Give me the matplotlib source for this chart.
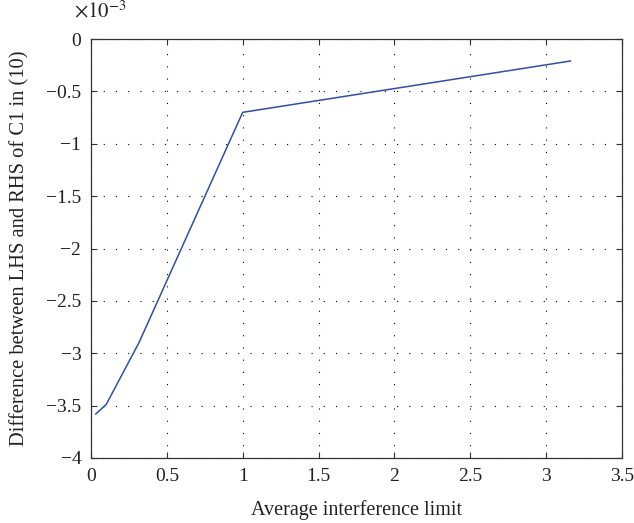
import matplotlib.pyplot as plt
from matplotlib.ticker import FuncFormatter

# interference limit vs. constraint gap
interference_limit = [0.0316, 0.1, 0.316, 1.0, 3.16]
lhs_rhs_diff = [-3.58e-3, -3.49e-3, -2.90e-3, -0.70e-3, -0.21e-3]

x_ticks = [0, 0.5, 1, 1.5, 2, 2.5, 3, 3.5]
y_ticks = [-4e-3, -3.5e-3, -3e-3, -2.5e-3, -2e-3, -1.5e-3, -1e-3, -0.5e-3, 0]

plt.rcParams['font.family'] = ['Liberation Serif', 'DejaVu Serif']
plt.rcParams['mathtext.fontset'] = 'stix'

fig = plt.figure(figsize=(6.34, 5.23), dpi=100)
ax = fig.add_axes([0.1435, 0.1243, 0.8375, 0.8011])

ax.plot(interference_limit, lhs_rhs_diff, color='#2f4fa6', lw=1.1)

ax.set_xlim(0, 3.5)
ax.set_ylim(-4e-3, 0)
ax.set_xticks(x_ticks)
ax.set_yticks(y_ticks)


def fmt(v, pos, scale=1.0):
    return ('%g' % round(v * scale, 6)).replace('-', '\u2212')


ax.xaxis.set_major_formatter(FuncFormatter(lambda v, p: fmt(v, p)))
ax.yaxis.set_major_formatter(FuncFormatter(lambda v, p: fmt(v, p, 1e3)))

ax.tick_params(direction='in', top=True, right=True, length=4, width=0.8,
               labelsize=14, pad=7, color='#333333', labelcolor='#222222')
for s in ax.spines.values():
    s.set_linewidth(0.9)
    s.set_color('#333333')

ax.grid(True, color='black', linestyle=(0, (1, 10)), linewidth=0.8)

ax.set_xlabel('Average interference limit', fontsize=14.5, labelpad=11,
              color='#222222')
ax.set_ylabel('Difference between LHS and RHS of C1 in (10)', fontsize=14.8,
              labelpad=12, color='#222222')
ax.text(0.017, 1.04, r'$\times10^{-3}$', transform=ax.transAxes,
        fontsize=15, ha='center', va='bottom', color='#222222')

fig.savefig('out.png', dpi=100)
